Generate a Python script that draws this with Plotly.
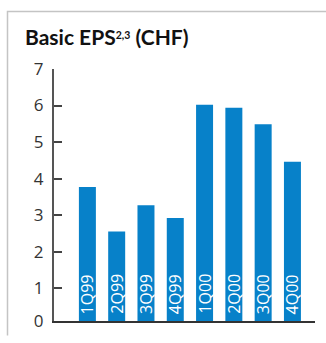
import plotly.graph_objects as go

categories = ["1Q99", "2Q99", "3Q99", "4Q99", "1Q00", "2Q00", "3Q00", "4Q00"]
eps = [3.77, 2.55, 3.27, 2.92, 6.02, 5.94, 5.49, 4.46]
tick_vals = [0.1, 1, 2, 3, 4, 5, 6, 7]
tick_text = ["0", "1", "2", "3", "4", "5", "6", "7"]

BLUE = "#0781c9"
W, H = 326, 343
ml, mr, mt, mb = 54, 11, 69, 13
pw, ph = W - ml - mr, H - mt - mb

def px_x(x):
    return (x - ml) / pw

def px_y(y):
    return 1 - (y - mt) / ph

xs = list(range(len(categories)))

fig = go.Figure()
fig.add_trace(go.Bar(x=xs, y=eps, marker=dict(color=BLUE, line=dict(width=0)),
                     width=0.58, hoverinfo="skip"))

annotations = []
for i, c in enumerate(categories):
    annotations.append(dict(x=i, y=0.1, xref="x", yref="y", text=c, showarrow=False,
                            textangle=-90, xanchor="center", yanchor="bottom", yshift=5,
                            font=dict(family="Open Sans", size=16, color="white")))
annotations.append(dict(x=px_x(23), y=px_y(35), xref="paper", yref="paper",
                        text="<b>Basic EPS<span style='font-size:15px'><sup>2,3</sup></span> (CHF)</b>",
                        showarrow=False, xanchor="left", yanchor="middle",
                        font=dict(family="Lato", size=21, color="#111111")))

shapes = [dict(type="path", xref="paper", yref="paper",
               path=f"M {px_x(7.5)},{px_y(345)} L {px_x(7.5)},{px_y(9.5)} L {px_x(330)},{px_y(9.5)}",
               line=dict(color="#c4c4c4", width=1.5))]

fig.update_layout(
    width=W, height=H,
    margin=dict(l=ml, r=mr, t=mt, b=mb),
    paper_bgcolor="white", plot_bgcolor="white",
    showlegend=False,
    annotations=annotations, shapes=shapes,
    xaxis=dict(range=[-1.14, 7.77], showticklabels=False, ticks="", showgrid=False,
               zeroline=False, showline=True, linecolor="#333333", linewidth=1.5, fixedrange=True),
    yaxis=dict(range=[0.1, 7], tickvals=tick_vals, ticktext=tick_text, ticks="inside",
               ticklen=8, tickwidth=1.5, tickcolor="#444444", showgrid=False, zeroline=False,
               showline=True, linecolor="#555555", linewidth=2, ticklabelstandoff=5,
               tickfont=dict(family="Open Sans", size=17, color="#333333"), fixedrange=True),
)

fig.write_html("out.html", config={"displayModeBar": False})
